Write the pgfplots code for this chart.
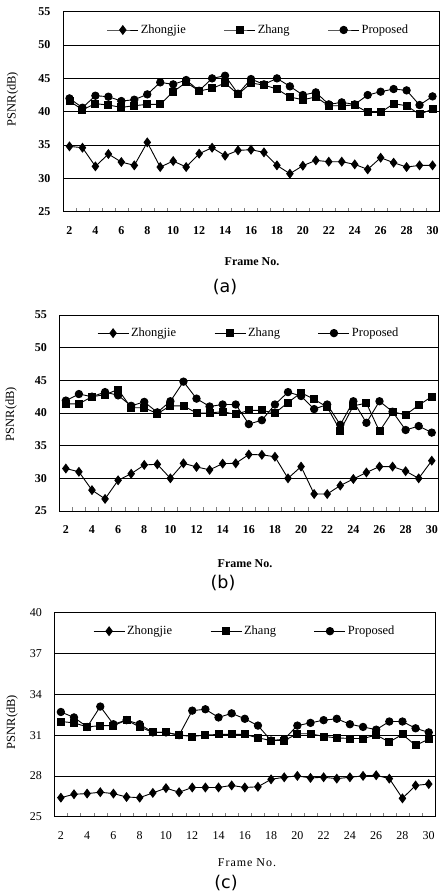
\documentclass[border=0pt]{standalone}
\usepackage{pgfplots}
\pgfplotsset{compat=1.18}
\usepackage{fontspec}
\setmainfont{Liberation Serif}
\newfontfamily\capfont{DejaVu Sans}
\pgfplotsset{
  psnr/.style={
    scale only axis, xmin=1.5, xmax=30.5, xtick={2,4,...,30},
    minor xtick={1.5,2.5,...,30.5}, tick align=inside, xtick pos=left, ytick pos=left,
    major tick length=0pt, minor tick length=4pt,
    ymajorgrids, grid style={black, line width=0.6pt},
    axis line style={line width=0.8pt},
    /pgf/number format/assume math mode=true,
    xticklabel style={yshift=-11pt},
    yticklabel style={xshift=-9pt},
    legend style={draw=none, fill=none, font=\fontsize{12.5}{12.5}\selectfont, legend columns=3,
      at={(0.5,0.955)}, anchor=north, /tikz/every even column/.append style={column sep=36pt}},
    legend image code/.code={\draw[mark repeat=2,mark phase=2] plot coordinates {(0pt,0pt) (15.5pt,0pt) (31pt,0pt)};},
    every axis plot/.append style={black, line width=0.9pt, mark options={solid}},
  },
  zj/.style={mark=diamond*, mark size=4.3pt},
  zh/.style={mark=square*, mark size=3.5pt},
  pr/.style={mark=*, mark size=3.7pt},
}
\begin{document}
\begin{tikzpicture}
\path[use as bounding box] (0pt,0pt) rectangle (440pt,-895pt);
% ---------------- (a)
\begin{axis}[psnr, at={(63pt,-11.7pt)}, anchor=north west, width=376pt, height=200pt,
  ymin=25, ymax=55, ytick={25,30,...,55},
  legend style={at={(0.52,0.955)}},
  tick label style={font=\fontsize{12}{12}\selectfont\bfseries}]
\addplot[zj] coordinates {(2,34.8)(3,34.6)(4,31.8)(5,33.65)(6,32.45)(7,31.95)(8,35.4)(9,31.7)(10,32.6)(11,31.7)(12,33.7)(13,34.6)(14,33.4)(15,34.2)(16,34.3)(17,33.9)(18,31.95)(19,30.7)(20,31.9)(21,32.7)(22,32.5)(23,32.5)(24,32.1)(25,31.35)(26,33.1)(27,32.35)(28,31.7)(29,31.95)(30,31.95)};
\addlegendentry{Zhongjie}
\addplot[zh] coordinates {(2,41.6)(3,40.3)(4,41.2)(5,41.0)(6,40.65)(7,40.9)(8,41.1)(9,41.1)(10,43.0)(11,44.4)(12,43.1)(13,43.5)(14,44.3)(15,42.6)(16,44.3)(17,44.0)(18,43.4)(19,42.2)(20,41.8)(21,42.2)(22,40.9)(23,40.9)(24,41.0)(25,39.9)(26,39.9)(27,41.2)(28,40.9)(29,39.6)(30,40.4)};
\addlegendentry{Zhang}
\addplot[pr] coordinates {(2,42.0)(3,40.6)(4,42.4)(5,42.25)(6,41.6)(7,41.8)(8,42.6)(9,44.4)(10,44.1)(11,44.75)(12,43.15)(13,45.0)(14,45.4)(15,42.7)(16,44.9)(17,44.1)(18,45.0)(19,43.8)(20,42.5)(21,42.9)(22,41.1)(23,41.4)(24,41.1)(25,42.5)(26,43.0)(27,43.4)(28,43.2)(29,41.0)(30,42.3)};
\addlegendentry{Proposed}
\end{axis}
\node[rotate=90, font=\fontsize{12.5}{12.5}\selectfont] at (12.7pt,-99pt) {PSNR(dB)};
\node[font=\fontsize{12}{12}\selectfont\bfseries] at (252pt,-261.7pt) {Frame No.};
\node[font=\capfont\fontsize{17.5}{17.5}\selectfont] at (225pt,-286.7pt) {(a)};
% ---------------- (b)
\begin{axis}[psnr, at={(59.3pt,-315pt)}, anchor=north west, width=379pt, height=196pt,
  ymin=25, ymax=55, ytick={25,30,...,55},
  tick label style={font=\fontsize{12}{12}\selectfont\bfseries}]
\addplot[zj] coordinates {(2,31.5)(3,31.0)(4,28.2)(5,26.85)(6,29.7)(7,30.7)(8,32.05)(9,32.15)(10,30.0)(11,32.3)(12,31.75)(13,31.3)(14,32.25)(15,32.3)(16,33.65)(17,33.6)(18,33.3)(19,30.0)(20,31.8)(21,27.6)(22,27.6)(23,28.9)(24,29.9)(25,30.9)(26,31.8)(27,31.8)(28,31.1)(29,30.0)(30,32.7)};
\addlegendentry{Zhongjie}
\addplot[zh] coordinates {(2,41.4)(3,41.4)(4,42.5)(5,42.8)(6,43.6)(7,40.8)(8,40.8)(9,39.9)(10,41.1)(11,41.1)(12,40.0)(13,40.0)(14,40.2)(15,39.8)(16,40.4)(17,40.4)(18,40.0)(19,41.6)(20,43.1)(21,42.1)(22,40.9)(23,37.3)(24,41.1)(25,41.5)(26,37.2)(27,40.2)(28,39.7)(29,41.2)(30,42.5)};
\addlegendentry{Zhang}
\addplot[pr] coordinates {(2,41.9)(3,42.9)(4,42.5)(5,43.2)(6,42.7)(7,41.1)(8,41.7)(9,40.1)(10,41.8)(11,44.8)(12,42.2)(13,41.0)(14,41.3)(15,41.3)(16,38.3)(17,38.9)(18,41.3)(19,43.2)(20,42.6)(21,40.6)(22,41.3)(23,38.2)(24,41.8)(25,38.5)(26,41.8)(27,40.2)(28,37.4)(29,38.0)(30,37.0)};
\addlegendentry{Proposed}
\end{axis}
\node[rotate=90, font=\fontsize{12.5}{12.5}\selectfont] at (11pt,-414pt) {PSNR(dB)};
\node[font=\fontsize{12}{12}\selectfont\bfseries] at (245pt,-564pt) {Frame No.};
\node[font=\capfont\fontsize{17.5}{17.5}\selectfont] at (223pt,-583pt) {(b)};
% ---------------- (c)
\begin{axis}[psnr, at={(54.3pt,-612.7pt)}, anchor=north west, width=381pt, height=204pt,
  ymin=25, ymax=40, ytick={25,28,...,40},
  tick label style={font=\fontsize{12}{12}\selectfont}]
\addplot[zj] coordinates {(2,26.4)(3,26.65)(4,26.7)(5,26.8)(6,26.7)(7,26.45)(8,26.4)(9,26.75)(10,27.1)(11,26.8)(12,27.15)(13,27.15)(14,27.15)(15,27.3)(16,27.15)(17,27.2)(18,27.75)(19,27.9)(20,28.0)(21,27.85)(22,27.9)(23,27.8)(24,27.9)(25,28.0)(26,28.05)(27,27.8)(28,26.35)(29,27.3)(30,27.4)};
\addlegendentry{Zhongjie}
\addplot[zh] coordinates {(2,32.0)(3,31.9)(4,31.6)(5,31.7)(6,31.7)(7,32.1)(8,31.6)(9,31.2)(10,31.2)(11,31.0)(12,30.9)(13,31.0)(14,31.05)(15,31.05)(16,31.05)(17,30.8)(18,30.6)(19,30.6)(20,31.1)(21,31.1)(22,30.9)(23,30.8)(24,30.75)(25,30.75)(26,31.0)(27,30.5)(28,31.05)(29,30.25)(30,30.7)};
\addlegendentry{Zhang}
\addplot[pr] coordinates {(2,32.7)(3,32.3)(4,31.6)(5,33.1)(6,31.8)(7,32.1)(8,31.8)(9,31.2)(10,31.2)(11,31.0)(12,32.8)(13,32.9)(14,32.3)(15,32.6)(16,32.2)(17,31.7)(18,30.6)(19,30.7)(20,31.7)(21,31.9)(22,32.1)(23,32.2)(24,31.8)(25,31.6)(26,31.4)(27,32.0)(28,32.0)(29,31.5)(30,31.2)};
\addlegendentry{Proposed}
\end{axis}
\node[rotate=90, font=\fontsize{12.5}{12.5}\selectfont] at (12pt,-722pt) {PSNR(dB)};
\node[font=\fontsize{12}{12}\selectfont\addfontfeatures{LetterSpace=8}] at (247pt,-863pt) {Frame No.};
\node[font=\capfont\fontsize{17.5}{17.5}\selectfont] at (226pt,-883pt) {(c)};
\end{tikzpicture}
\end{document}
